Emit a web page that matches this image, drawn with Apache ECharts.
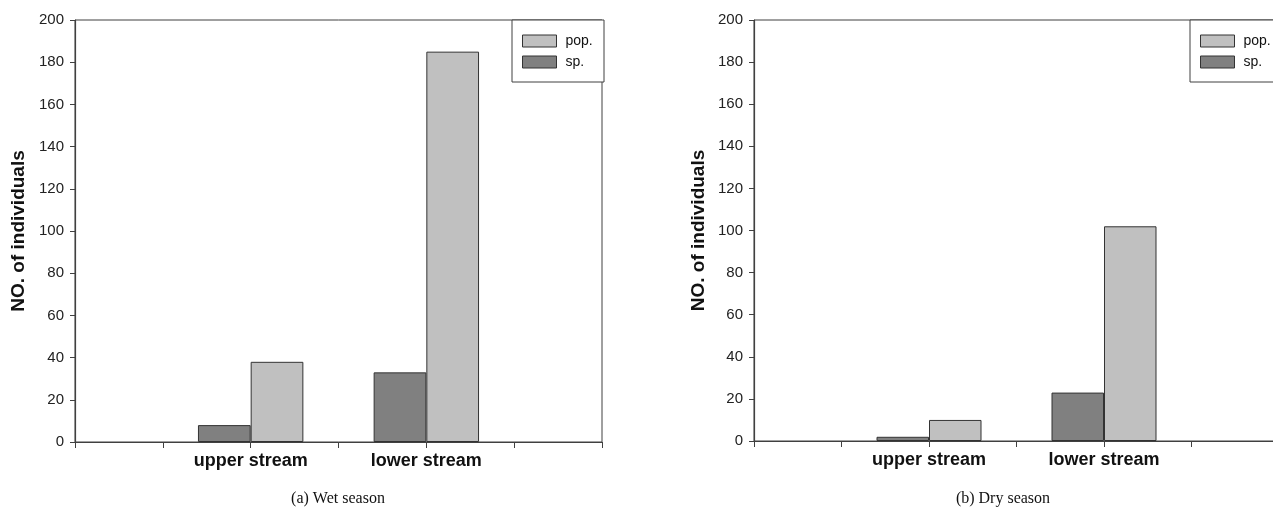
<!DOCTYPE html>
<html>
<head>
<meta charset="utf-8">
<style>
html,body{margin:0;padding:0;background:#fff;}
#c{width:1273px;height:507px;}
</style>
<script src="https://cdn.jsdelivr.net/npm/echarts@6/dist/echarts.min.js"></script>
</head>
<body>
<div id="c"></div>
<script>
// ---- data ----
const categories = ['upper stream', 'lower stream'];
const wetSp = [8, 33];
const wetPop = [38, 185];
const drySp = [2, 23];
const dryPop = [10, 102];
const yMin = 0, yMax = 200, yStep = 20;
const seriesNames = ['pop.', 'sp.'];
const captions = ['(a) Wet season', '(b) Dry season'];
const yName = 'NO. of individuals';

// category slots: an empty slot at each end and between, ticks at half steps
const slotIndex = [2, 4];
const slots = ['', '', '', '', '', '', ''];
categories.forEach((c, i) => { slots[slotIndex[i]] = c; });
function toSlots(vals) {
  const out = slots.map(() => null);
  vals.forEach((v, i) => { out[slotIndex[i]] = v; });
  return out;
}

const FONT = 'Liberation Sans, Arial, sans-serif';
const AXIS = '#404040';
const POP = '#c0c0c0', SP = '#808080';

function xAxis(gi) {
  return {
    type: 'category', gridIndex: gi, data: slots, boundaryGap: false,
    axisLine: { lineStyle: { color: AXIS, width: 1.2 } },
    axisTick: { interval: 0, length: 6, lineStyle: { color: AXIS } },
    axisLabel: { interval: 0, margin: 10, fontFamily: FONT, fontSize: 18, fontWeight: 'bold', color: '#111' },
    splitLine: { show: false }
  };
}
function yAxis(gi, gap) {
  return {
    type: 'value', gridIndex: gi, min: yMin, max: yMax, interval: yStep,
    name: yName, nameLocation: 'middle', nameGap: gap,
    nameTextStyle: { fontFamily: FONT, fontSize: 19, fontWeight: 'bold', color: '#111' },
    axisLine: { show: true, lineStyle: { color: AXIS, width: 1.2 } },
    axisTick: { show: true, length: 5, lineStyle: { color: AXIS } },
    axisLabel: { margin: 11, fontFamily: FONT, fontSize: 15, color: '#222' },
    splitLine: { show: false }
  };
}
function bar(name, color, xi, data) {
  return {
    type: 'bar', name: name, xAxisIndex: xi, yAxisIndex: xi, data: data,
    barWidth: '60%', barGap: '0%',
    itemStyle: { color: color, borderColor: '#333', borderWidth: 1 },
    emphasis: { disabled: true }, animation: false
  };
}
function legend(left) {
  return {
    data: seriesNames, orient: 'vertical', left: left, top: 20, z: 20,
    padding: [14, 0, 13, 10], itemGap: 7, itemWidth: 34, itemHeight: 12,
    icon: 'rect', selectedMode: false,
    itemStyle: { borderColor: '#333', borderWidth: 1 },
    textStyle: { fontFamily: FONT, fontSize: 14, lineHeight: 14, color: '#111', padding: [0, 0, 0, 4] }
  };
}
function legendBox(x) {
  return { type: 'rect', x: x, y: 20, z: 10, shape: { x: 0, y: 0, width: 92, height: 62 },
    style: { fill: '#fff', stroke: AXIS, lineWidth: 1 } };
}
function caption(x, text) {
  return { type: 'text', x: x, y: 491, z: 10,
    style: { text: text, font: '16px "Liberation Serif", "Times New Roman", serif', fill: '#111', textAlign: 'center', textVerticalAlign: 'top' } };
}

const chart = echarts.init(document.getElementById('c'), null, { renderer: 'canvas' });
chart.setOption({
  animation: false,
  backgroundColor: '#fff',
  grid: [
    { left: 75, top: 20, width: 527, height: 422, show: true, borderColor: AXIS, borderWidth: 1, backgroundColor: 'transparent', outerBoundsMode: 'none', containLabel: false },
    { left: 754, top: 20, width: 525, height: 421, show: true, borderColor: AXIS, borderWidth: 1, backgroundColor: 'transparent', outerBoundsMode: 'none', containLabel: false }
  ],
  legend: [legend(512), legend(1190)],
  xAxis: [xAxis(0), xAxis(1)],
  yAxis: [yAxis(0, 47), yAxis(1, 46)],
  series: [
    bar('sp.', SP, 0, toSlots(wetSp)),
    bar('pop.', POP, 0, toSlots(wetPop)),
    bar('sp.', SP, 1, toSlots(drySp)),
    bar('pop.', POP, 1, toSlots(dryPop))
  ],
  graphic: [
    legendBox(512), legendBox(1190),
    caption(338, captions[0]), caption(1003, captions[1])
  ]
});
</script>
</body>
</html>
